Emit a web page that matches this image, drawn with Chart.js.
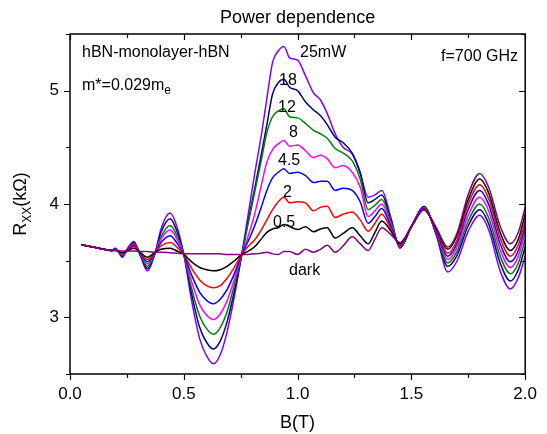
<!DOCTYPE html>
<html>
<head>
<meta charset="utf-8">
<script src="https://cdn.jsdelivr.net/npm/chart.js@4.4.1/dist/chart.umd.min.js"></script>
<style>
  html, body { margin: 0; padding: 0; background: #fff; }
  #wrap { width: 547px; height: 434px; }
</style>
</head>
<body>
<div id="wrap"><canvas id="powerChart" width="547" height="434"></canvas></div>
<script>
// Magnetic field (T), shared by every trace
const B = [0.05, 0.10, 0.15, 0.18, 0.20, 0.23, 0.255, 0.28, 0.31, 0.34,
           0.375, 0.40, 0.44, 0.47, 0.50, 0.535, 0.57, 0.60, 0.63, 0.66,
           0.69, 0.72, 0.755, 0.78, 0.81, 0.84, 0.865, 0.89, 0.915, 0.94,
           0.965, 1.00, 1.035, 1.07, 1.10, 1.13, 1.165, 1.20, 1.24, 1.275,
           1.31, 1.34, 1.37, 1.41, 1.45, 1.50, 1.555, 1.61, 1.66, 1.70,
           1.75, 1.80, 1.84, 1.89, 1.935, 1.97, 2.00];

// Rxx (kOhm) for each power
const dark = [3.64, 3.62, 3.60, 3.59, 3.59, 3.585, 3.585, 3.585, 3.58, 3.58,
              3.575, 3.575, 3.57, 3.565, 3.56, 3.56, 3.56, 3.56, 3.56, 3.56,
              3.555, 3.555, 3.555, 3.555, 3.56, 3.565, 3.575, 3.56, 3.555, 3.58,
              3.58, 3.555, 3.60, 3.575, 3.60, 3.635, 3.575, 3.63, 3.71, 3.65,
              3.59, 3.69, 3.79, 3.73, 3.66, 3.80, 3.95, 3.79, 3.62, 3.74,
              4.085, 4.27, 4.146, 3.805, 3.65, 3.75, 3.97];
const p0_5 = [3.64, 3.62, 3.60, 3.59, 3.59, 3.57, 3.59, 3.61, 3.57, 3.53,
              3.575, 3.60, 3.61, 3.585, 3.555, 3.49, 3.44, 3.42, 3.41, 3.42,
              3.45, 3.495, 3.555, 3.58, 3.62, 3.69, 3.75, 3.78, 3.79, 3.82,
              3.80, 3.775, 3.80, 3.755, 3.78, 3.79, 3.70, 3.74, 3.79, 3.72,
              3.65, 3.75, 3.85, 3.76, 3.65, 3.80, 3.95, 3.78, 3.60, 3.72,
              4.04, 4.22, 4.094, 3.75, 3.59, 3.69, 3.91];
const p2 = [3.64, 3.62, 3.60, 3.59, 3.595, 3.565, 3.595, 3.625, 3.565, 3.51,
            3.575, 3.63, 3.66, 3.62, 3.555, 3.43, 3.33, 3.28, 3.26, 3.28,
            3.345, 3.435, 3.555, 3.62, 3.68, 3.77, 3.86, 3.95, 4.02, 4.06,
            4.01, 4.02, 4.01, 3.94, 3.97, 3.98, 3.88, 3.91, 3.93, 3.86,
            3.76, 3.83, 3.91, 3.78, 3.64, 3.80, 3.955, 3.77, 3.565, 3.68,
            4.00, 4.17, 4.044, 3.70, 3.54, 3.64, 3.85];
const p4_5 = [3.64, 3.62, 3.60, 3.59, 3.595, 3.56, 3.60, 3.635, 3.56, 3.49,
              3.575, 3.66, 3.72, 3.655, 3.555, 3.37, 3.22, 3.15, 3.12, 3.16,
              3.245, 3.375, 3.555, 3.66, 3.80, 3.97, 4.12, 4.23, 4.28, 4.31,
              4.27, 4.28, 4.25, 4.19, 4.20, 4.20, 4.12, 4.14, 4.12, 4.02,
              3.83, 3.89, 3.96, 3.80, 3.635, 3.80, 3.96, 3.76, 3.54, 3.65,
              3.955, 4.12, 3.994, 3.65, 3.49, 3.59, 3.80];
const p8 = [3.64, 3.62, 3.60, 3.59, 3.60, 3.555, 3.60, 3.645, 3.555, 3.47,
            3.575, 3.69, 3.77, 3.69, 3.555, 3.31, 3.11, 3.02, 2.98, 3.03,
            3.145, 3.32, 3.555, 3.70, 3.90, 4.16, 4.37, 4.48, 4.53, 4.56,
            4.51, 4.52, 4.47, 4.41, 4.43, 4.40, 4.32, 4.34, 4.28, 4.15,
            3.89, 3.94, 4.00, 3.82, 3.63, 3.80, 3.965, 3.75, 3.51, 3.615,
            3.90, 4.06, 3.936, 3.595, 3.44, 3.54, 3.75];
const p12 = [3.64, 3.62, 3.60, 3.59, 3.60, 3.55, 3.605, 3.65, 3.55, 3.45,
             3.575, 3.71, 3.81, 3.72, 3.555, 3.25, 3.01, 2.90, 2.85, 2.91,
             3.05, 3.27, 3.555, 3.80, 4.09, 4.38, 4.63, 4.77, 4.82, 4.84,
             4.77, 4.76, 4.71, 4.65, 4.62, 4.58, 4.49, 4.45, 4.38, 4.22,
             3.95, 3.99, 4.04, 3.84, 3.62, 3.80, 3.97, 3.74, 3.48, 3.58,
             3.85, 4.00, 3.877, 3.54, 3.385, 3.48, 3.69];
const p18 = [3.64, 3.62, 3.60, 3.59, 3.605, 3.54, 3.61, 3.66, 3.545, 3.43,
             3.575, 3.75, 3.87, 3.76, 3.555, 3.20, 2.91, 2.78, 2.72, 2.79,
             2.96, 3.21, 3.555, 3.82, 4.12, 4.43, 4.70, 4.97, 5.07, 5.10,
             5.03, 5.00, 4.90, 4.83, 4.78, 4.70, 4.59, 4.54, 4.45, 4.28,
             4.01, 4.04, 4.08, 3.86, 3.615, 3.80, 3.975, 3.73, 3.45, 3.545,
             3.81, 3.95, 3.824, 3.48, 3.32, 3.42, 3.62];
const p25 = [3.64, 3.62, 3.60, 3.59, 3.61, 3.53, 3.615, 3.67, 3.54, 3.41,
             3.575, 3.78, 3.92, 3.80, 3.555, 3.14, 2.81, 2.66, 2.59, 2.67,
             2.87, 3.16, 3.555, 3.87, 4.25, 4.60, 4.93, 5.25, 5.35, 5.39,
             5.29, 5.27, 5.13, 4.98, 4.92, 4.80, 4.62, 4.50, 4.44, 4.27,
             4.06, 4.08, 4.12, 3.88, 3.61, 3.80, 3.98, 3.72, 3.40, 3.495,
             3.76, 3.90, 3.77, 3.41, 3.25, 3.35, 3.54];

const seriesNames = ['dark', '0.5', '2', '4.5', '8', '12', '18', '25mW'];
const seriesData = [dark, p0_5, p2, p4_5, p8, p12, p18, p25];
const seriesColors = ['#800080', '#000000', '#ff0000', '#0000ff', '#ff00ff', '#008000', '#000080', '#8000ff'];

// Axis ticks (majors get labels)
const xTickVals = [0, 0.25, 0.5, 0.75, 1.0, 1.25, 1.5, 1.75, 2.0];
const yTickVals = [2.5, 3, 3.5, 4, 4.5, 5, 5.5];

const FONT = '"Liberation Sans", Arial, sans-serif';

// Frame with Origin-style ticks: outward on left/bottom, inward on top/right
const frameTicks = {
    id: 'frameTicks',
    afterDraw(chart) {
        const { ctx, chartArea: a, scales: { x, y } } = chart;
        ctx.save();
        ctx.strokeStyle = '#000';
        ctx.lineWidth = 1.5;
        ctx.strokeRect(a.left, a.top, a.right - a.left, a.bottom - a.top);
        ctx.lineWidth = 1.2;
        ctx.beginPath();
        xTickVals.forEach(v => {
            const px = Math.round(x.getPixelForValue(v)) + 0.5;
            const len = (Math.abs(v * 2 - Math.round(v * 2)) < 1e-6) ? 6 : 4;
            ctx.moveTo(px, a.bottom); ctx.lineTo(px, a.bottom + len);
            ctx.moveTo(px, a.top); ctx.lineTo(px, a.top + len);
        });
        yTickVals.forEach(v => {
            const py = Math.round(y.getPixelForValue(v)) + 0.5;
            const len = Number.isInteger(v) ? 6 : 4;
            ctx.moveTo(a.left, py); ctx.lineTo(a.left - len, py);
            ctx.moveTo(a.right, py); ctx.lineTo(a.right - len, py);
        });
        ctx.stroke();
        ctx.restore();
    }
};

// Title, notes, curve labels and axis titles
const textLayer = {
    id: 'textLayer',
    afterDraw(chart) {
        const { ctx, chartArea: a } = chart;
        ctx.save();
        ctx.fillStyle = '#000';
        ctx.textBaseline = 'alphabetic';

        ctx.font = '18px ' + FONT;
        ctx.textAlign = 'center';
        ctx.fillText('Power dependence', (a.left + a.right) / 2, 23);
        ctx.fillText('B(T)', (a.left + a.right) / 2, 428);

        ctx.font = '16px ' + FONT;
        ctx.textAlign = 'left';
        ctx.fillText('hBN-monolayer-hBN', 82, 57);
        ctx.fillText('m*=0.029m', 82, 90);
        const w = ctx.measureText('m*=0.029m').width;
        ctx.font = '12px ' + FONT;
        ctx.fillText('e', 82 + w, 94);

        ctx.font = '16px ' + FONT;
        ctx.textAlign = 'right';
        ctx.fillText('f=700 GHz', 518, 61);

        ctx.textAlign = 'left';
        ctx.fillText('25mW', 300, 57);
        ctx.fillText('18', 279, 85);
        ctx.fillText('12', 278, 112);
        ctx.fillText('8', 289, 137);
        ctx.fillText('4.5', 278, 165);
        ctx.fillText('2', 283, 197);
        ctx.fillText('0.5', 273, 227);
        ctx.fillText('dark', 289, 275);

        // y title, rotated, with subscript
        ctx.translate(26, (a.top + a.bottom) / 2);
        ctx.rotate(-Math.PI / 2);
        ctx.font = '18px ' + FONT;
        const wR = ctx.measureText('R').width;
        ctx.font = '12px ' + FONT;
        const wS = ctx.measureText('XX').width;
        ctx.font = '18px ' + FONT;
        const wK = ctx.measureText('(k\u03A9)').width;
        let sx = -(wR + wS + wK) / 2;
        ctx.textAlign = 'left';
        ctx.fillText('R', sx, 0);
        ctx.font = '12px ' + FONT;
        ctx.fillText('XX', sx + wR, 5);
        ctx.font = '18px ' + FONT;
        ctx.fillText('(k\u03A9)', sx + wR + wS, 0);
        ctx.restore();
    }
};

const ctx = document.getElementById('powerChart').getContext('2d');
const powerChart = new Chart(ctx, {
    type: 'line',
    data: {
        datasets: seriesNames.map((name, i) => ({
            label: name,
            data: B.map((b, j) => ({ x: b, y: seriesData[i][j] })),
            borderColor: seriesColors[i],
            borderWidth: 1.5,
            pointRadius: 0,
            cubicInterpolationMode: 'monotone',
            fill: false
        }))
    },
    options: {
        responsive: false,
        animation: false,
        events: [],
        layout: { padding: { top: 34, right: 15, left: 0, bottom: 0 } },
        plugins: {
            legend: { display: false },
            tooltip: { enabled: false }
        },
        scales: {
            x: {
                type: 'linear',
                min: 0,
                max: 2,
                afterFit: s => { s.height = 60; },
                afterBuildTicks: s => { s.ticks = xTickVals.filter((v, i) => i % 2 === 0).map(v => ({ value: v })); },
                ticks: {
                    padding: 10,
                    color: '#000',
                    maxRotation: 0,
                    autoSkip: false,
                    font: { family: FONT, size: 17 },
                    callback: v => v.toFixed(1)
                },
                grid: { display: false, drawTicks: false },
                border: { display: false }
            },
            y: {
                type: 'linear',
                min: 2.5,
                max: 5.5,
                afterFit: s => { s.width = 70; },
                afterBuildTicks: s => { s.ticks = yTickVals.filter(v => Number.isInteger(v)).map(v => ({ value: v })); },
                ticks: {
                    padding: 11,
                    color: '#000',
                    autoSkip: false,
                    font: { family: FONT, size: 17 },
                    callback: v => String(v)
                },
                grid: { display: false, drawTicks: false },
                border: { display: false }
            }
        }
    },
    plugins: [frameTicks, textLayer]
});
</script>
</body>
</html>
